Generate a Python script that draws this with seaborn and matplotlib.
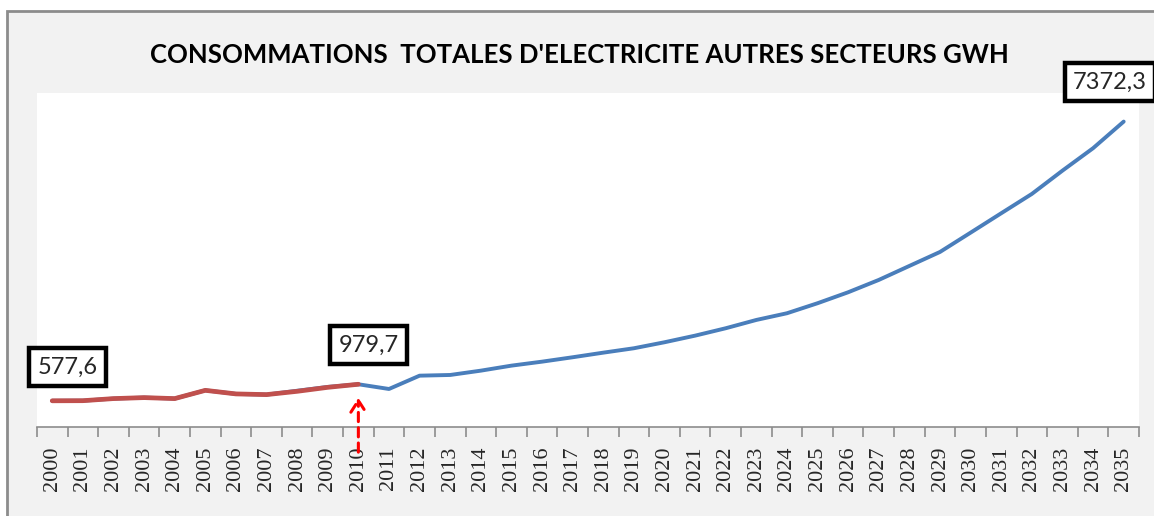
import matplotlib.pyplot as plt
import matplotlib.patches as mpatches
import seaborn as sns
import pandas as pd

sns.set_theme(style="white")
plt.rcParams['font.family'] = ['Lato', 'DejaVu Sans']

years = list(range(2000, 2036))
# projection (blue), includes history under the red line
projection = [577.6, 580, 631, 655, 631, 832, 745, 728, 822, 915, 979.7,
              865, 1189, 1206, 1311, 1433, 1530, 1637, 1749, 1856, 2002,
              2163, 2343, 2545, 2708, 2952, 3219, 3519, 3860, 4200, 4670,
              5142, 5612, 6179, 6725, 7372.3]
hist_years = list(range(2000, 2011))
history = [577.6, 580, 631, 655, 631, 832, 745, 728, 808, 905, 979.7]

df_proj = pd.DataFrame({'year': years, 'value': projection})
df_hist = pd.DataFrame({'year': hist_years, 'value': history})

fig = plt.figure(figsize=(11.54, 5.16), dpi=100)
fig.patch.set_facecolor('white')
# grey chart frame
fig.patches.append(mpatches.Rectangle((0.006, -0.02), 1.0, 0.999, transform=fig.transFigure,
                                      facecolor='#f2f2f2', edgecolor='#8c8c8c', linewidth=2,
                                      zorder=-5))

ax = fig.add_axes([0.032, 0.1725, 0.955, 0.6475])
ax.set_facecolor('white')

sns.lineplot(data=df_proj, x='year', y='value', ax=ax, color='#4a7ebb', linewidth=2.8)
sns.lineplot(data=df_hist, x='year', y='value', ax=ax, color='#c0504d', linewidth=3.4)

ax.set_xlim(1999.5, 2035.5)
ax.set_ylim(-60, 8071)
ax.set_yticks([])
ax.set_xlabel('')
ax.set_ylabel('')
for s in ['top', 'right', 'left']:
    ax.spines[s].set_visible(False)
ax.spines['bottom'].set_color('#8c8c8c')
ax.spines['bottom'].set_linewidth(1.2)

ax.set_xticks(years)
ax.set_xticklabels([str(y) for y in years], rotation=90, family='Liberation Serif', fontsize=16)
ax.set_xticks([y - 0.5 for y in years] + [2035.5], minor=True)
ax.tick_params(axis='x', which='major', length=0, pad=14)
ax.tick_params(axis='x', which='minor', length=7, color='#8c8c8c', width=1.2, bottom=True)

fig.text(0.502, 0.893, "CONSOMMATIONS  TOTALES D'ELECTRICITE AUTRES SECTEURS GWH",
         ha='center', va='center', fontsize=18.5, fontweight='bold', color='black')

box = dict(boxstyle='square,pad=0.35', facecolor='white', edgecolor='black', linewidth=3.2)
lbl = dict(fontsize=17, ha='center', va='center', bbox=box, color='#262626',
           annotation_clip=False)
ax.annotate('577,6', xy=(2000, 577.6), xytext=(2000.5, 1401), **lbl)
ax.annotate('979,7', xy=(2010, 979.7), xytext=(2010.33, 1936), **lbl)
ax.annotate('7372,3', xy=(2035, 7372.3), xytext=(2034.55, 8338), **lbl)

# red dashed arrow pointing at the 2010 value
ax.annotate('', xy=(2010, 720), xytext=(2010, -740), annotation_clip=False,
            arrowprops=dict(arrowstyle='->,head_width=0.45,head_length=0.7', color='red',
                            linestyle=(0, (3, 2)), linewidth=2.2))

fig.savefig('out.png', dpi=100)
